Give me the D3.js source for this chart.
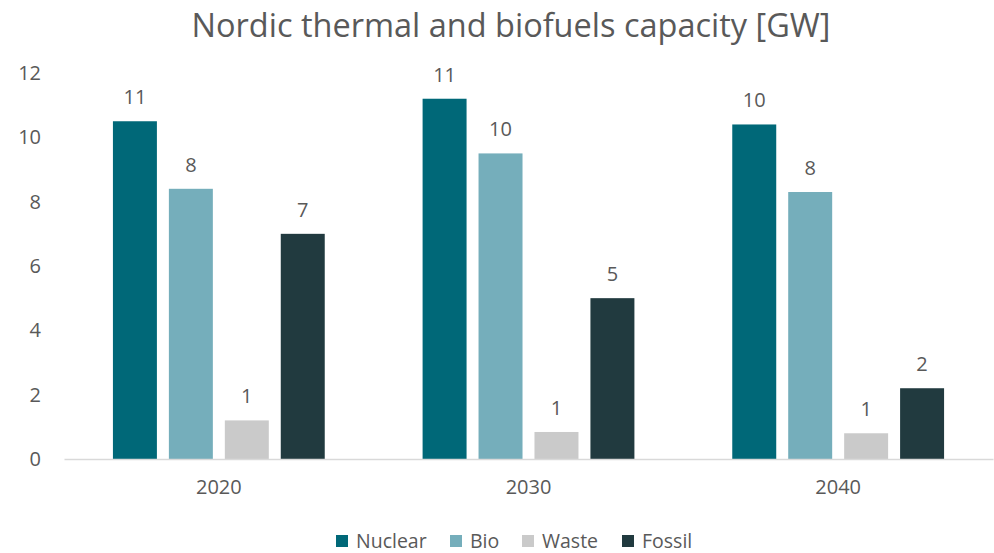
<!DOCTYPE html>
<html>
<head>
<meta charset="utf-8">
<script src="https://cdn.jsdelivr.net/npm/d3@7"></script>
<style>
  body { margin: 0; background: #fff; }
  svg { display: block; }
  text { font-family: "Open Sans", "Noto Sans", sans-serif; fill: #595959; }
</style>
</head>
<body>
<div id="chart"></div>
<script>
var years = ["2020", "2030", "2040"];
var series = ["Nuclear", "Bio", "Waste", "Fossil"];
var colors = ["#006878", "#75aebb", "#cacaca", "#213a3f"];
var nuclear = [10.5, 11.2, 10.4];
var bio = [8.4, 9.5, 8.3];
var waste = [1.2, 0.84, 0.8];
var fossil = [7.0, 5.0, 2.2];
var yTicks = [0, 2, 4, 6, 8, 10, 12];

var values = [nuclear, bio, waste, fossil];
var width = 994, height = 553;

var svg = d3.select("#chart").append("svg")
    .attr("width", width)
    .attr("height", height);

var x0 = d3.scaleBand()
    .domain(years)
    .range([64, 993])
    .paddingInner(0.316)
    .paddingOuter(0.158);

var x1 = d3.scaleBand()
    .domain(series)
    .range([0, x0.bandwidth()])
    .paddingInner(0.214);

var y = d3.scaleLinear()
    .domain([0, 12])
    .range([459, 73]);

var color = d3.scaleOrdinal().domain(series).range(colors);

// title
svg.append("text")
    .attr("x", 511)
    .attr("y", 37)
    .attr("text-anchor", "middle")
    .style("font-size", "32.5px")
    .text("Nordic thermal and biofuels capacity [GW]");

// y axis labels (no line)
var yAxis = svg.append("g")
    .attr("transform", "translate(41,0)")
    .call(d3.axisLeft(y).tickValues(yTicks).tickSize(0).tickPadding(0));
yAxis.select(".domain").remove();
yAxis.selectAll("text")
    .style("font-size", "20px")
    .attr("fill", "#595959");

// bars
var rows = [];
years.forEach(function(yr, i) {
    series.forEach(function(s, j) {
        rows.push({ year: yr, key: s, value: values[j][i] });
    });
});

svg.append("g").selectAll("rect")
    .data(rows)
    .enter().append("rect")
    .attr("x", function(d) { return x0(d.year) + x1(d.key); })
    .attr("y", function(d) { return y(d.value); })
    .attr("width", x1.bandwidth())
    .attr("height", function(d) { return y(0) - y(d.value); })
    .attr("fill", function(d) { return color(d.key); });

svg.append("g").selectAll("text")
    .data(rows)
    .enter().append("text")
    .attr("x", function(d) { return x0(d.year) + x1(d.key) + x1.bandwidth() / 2; })
    .attr("y", function(d) { return y(d.value) - 17; })
    .attr("text-anchor", "middle")
    .style("font-size", "20px")
    .text(function(d) { return Math.round(d.value); });

// x axis
var xAxis = svg.append("g")
    .attr("transform", "translate(0," + y(0) + ")")
    .call(d3.axisBottom(x0).tickSize(0).tickPadding(21));
xAxis.select(".domain")
    .attr("stroke", "#d9d9d9")
    .attr("stroke-width", 1.5);
xAxis.selectAll("text")
    .style("font-size", "20px")
    .attr("fill", "#595959");

// legend
var legendX = [336, 450, 522, 622];
var legend = svg.append("g").selectAll("g")
    .data(series)
    .enter().append("g")
    .attr("transform", function(d, i) { return "translate(" + legendX[i] + ",535)"; });
legend.append("rect")
    .attr("width", 12)
    .attr("height", 12)
    .attr("fill", function(d) { return color(d); });
legend.append("text")
    .attr("x", 20)
    .attr("y", 6)
    .attr("dy", "0.35em")
    .style("font-size", "19.5px")
    .text(function(d) { return d; });
</script>
</body>
</html>
